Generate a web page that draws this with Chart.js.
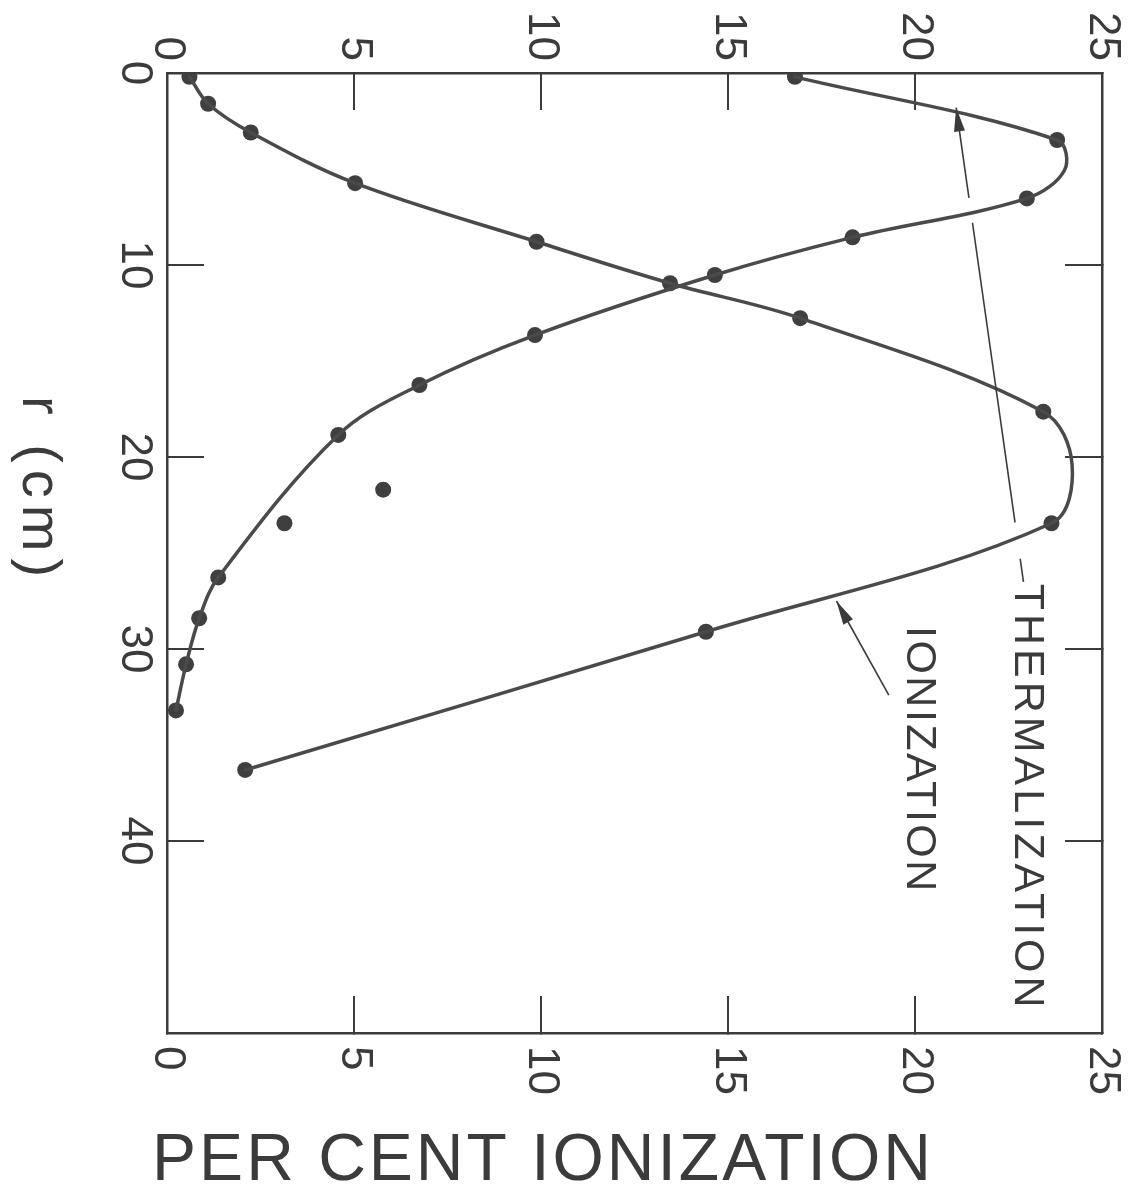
<!DOCTYPE html>
<html>
<head>
<meta charset="utf-8">
<script src="https://cdn.jsdelivr.net/npm/chart.js@4.4.1/dist/chart.umd.min.js"></script>
<style>
  html, body { margin: 0; padding: 0; background: #fff; }
</style>
</head>
<body>
<canvas id="chart" width="1133" height="1186"></canvas>
<script>
// per cent ionization runs across, r (cm) runs down the page
const pctTicks = [0, 5, 10, 15, 20, 25];
const rTicks = [0, 10, 20, 30, 40];

// measured points
const ionPct = [0.6, 1.1, 2.24, 5.03, 9.88, 13.45, 16.93, 23.43, 23.65, 14.41, 2.09];
const ionR = [0.2, 1.6, 3.1, 5.74, 8.79, 10.95, 12.77, 17.64, 23.45, 29.1, 36.3];

const thermPct = [16.79, 23.8, 22.99, 18.33, 14.65, 9.84, 6.75, 4.58, 1.37, 0.86, 0.51, 0.24];
const thermR = [0.2, 3.49, 6.53, 8.56, 10.52, 13.65, 16.25, 18.85, 26.27, 28.4, 30.8, 33.2];

// two points lying off the thermalization curve
const strayPct = [5.78, 3.14];
const strayR = [21.7, 23.45];

// the drawn curves (includes the turning points)
const ionCurvePct = [0.6, 1.1, 2.24, 5.03, 9.88, 13.45, 16.93, 23.43, 24.2, 23.65, 14.41, 2.09];
const ionCurveR = [0.2, 1.6, 3.1, 5.74, 8.79, 10.95, 12.77, 17.64, 20.4, 23.45, 29.1, 36.3];

const thermCurvePct = [16.79, 23.8, 24.0, 22.99, 18.33, 14.65, 9.84, 6.75, 4.58, 1.37, 0.86, 0.51, 0.24];
const thermCurveR = [0.2, 3.49, 5.05, 6.53, 8.56, 10.52, 13.65, 16.25, 18.85, 26.27, 28.4, 30.8, 33.2];

// labels with leader arrows (data units)
const thermNote = { text: "THERMALIZATION", pct: 23.0, r: 26.6, spacing: 4,
  tip: [21.1, 1.8], tail: [22.9, 26.5], gaps: [[6.5, 7.8], [23.4, 25.3]] };
const ionNote = { text: "IONIZATION", pct: 20.1, r: 28.8, spacing: 2.5,
  tip: [17.9, 27.5], tail: [19.3, 32.4], gaps: [] };

const ink = "#3b3b3b";
const lineInk = "#4a4a4a";
const font = "'Liberation Sans', Arial, sans-serif";

const pts = (xs, ys) => xs.map((v, i) => ({ x: v, y: ys[i] }));

function axis(pos, min, max, step, size, reverse) {
  return {
    type: "linear",
    position: pos,
    axis: pos === "top" || pos === "bottom" ? "x" : "y",
    min: min,
    max: max,
    reverse: !!reverse,
    ticks: { display: false, stepSize: step },
    grid: { drawOnChartArea: false, drawTicks: true, tickLength: -37, color: ink, lineWidth: 2 },
    border: { display: true, color: ink, width: 2.5 },
    afterFit: (s) => {
      if (s.isHorizontal()) s.height = size;
      else s.width = size;
    },
  };
}

function rotText(ctx, text, x, y, align, spacing) {
  ctx.save();
  ctx.translate(x, y);
  ctx.rotate(Math.PI / 2);
  ctx.textAlign = align;
  ctx.textBaseline = "middle";
  ctx.letterSpacing = (spacing || 0) + "px";
  ctx.fillText(text, 0, 0);
  ctx.restore();
}

function drawNote(ctx, xs, ys, note) {
  const px = (p) => [xs.getPixelForValue(p[0]), ys.getPixelForValue(p[1])];
  const at = (r) => {
    const t = (r - note.tip[1]) / (note.tail[1] - note.tip[1]);
    return [note.tip[0] + t * (note.tail[0] - note.tip[0]), r];
  };
  const stops = [note.tip[1]];
  note.gaps.forEach((g) => stops.push(g[0], g[1]));
  stops.push(note.tail[1]);
  ctx.save();
  ctx.strokeStyle = ink;
  ctx.lineWidth = 1.6;
  for (let i = 0; i < stops.length; i += 2) {
    const a = px(at(stops[i]));
    const b = px(at(stops[i + 1]));
    ctx.beginPath();
    ctx.moveTo(a[0], a[1]);
    ctx.lineTo(b[0], b[1]);
    ctx.stroke();
  }
  // arrow head
  const tip = px(note.tip);
  const tail = px(note.tail);
  const ang = Math.atan2(tip[1] - tail[1], tip[0] - tail[0]);
  const len = 24, hw = 5.5;
  ctx.fillStyle = ink;
  ctx.beginPath();
  ctx.moveTo(tip[0], tip[1]);
  ctx.lineTo(tip[0] - len * Math.cos(ang) + hw * Math.sin(ang), tip[1] - len * Math.sin(ang) - hw * Math.cos(ang));
  ctx.lineTo(tip[0] - len * Math.cos(ang) - hw * Math.sin(ang), tip[1] - len * Math.sin(ang) + hw * Math.cos(ang));
  ctx.closePath();
  ctx.fill();
  ctx.font = "43px " + font;
  rotText(ctx, note.text, xs.getPixelForValue(note.pct), ys.getPixelForValue(note.r), "left", note.spacing);
  ctx.restore();
}

const textPlugin = {
  id: "texts",
  afterDraw(chart) {
    const ctx = chart.ctx;
    const xb = chart.scales.x, xt = chart.scales.x2, yl = chart.scales.y;
    ctx.save();
    ctx.fillStyle = ink;
    ctx.font = "44px " + font;
    pctTicks.forEach((v) => {
      rotText(ctx, String(v), xt.getPixelForValue(v), xt.bottom - 12, "right");
      rotText(ctx, String(v), xb.getPixelForValue(v), xb.top + 13, "left");
    });
    rTicks.forEach((v) => {
      rotText(ctx, String(v), yl.right - 33, yl.getPixelForValue(v), "center");
    });
    ctx.font = "56px " + font;
    rotText(ctx, "r (cm)", 38, 490, "center", 7);
    ctx.font = "66px " + font;
    ctx.textAlign = "center";
    ctx.textBaseline = "alphabetic";
    ctx.letterSpacing = "3px";
    ctx.fillText("PER CENT IONIZATION", 543, 1180);
    ctx.letterSpacing = "0px";
    drawNote(ctx, xb, yl, thermNote);
    drawNote(ctx, xb, yl, ionNote);
    ctx.restore();
  },
};

const curve = (data) => ({
  data: data,
  showLine: true,
  borderColor: lineInk,
  borderWidth: 3.5,
  tension: 0.35,
  pointRadius: 0,
  borderCapStyle: "round",
  xAxisID: "x",
  yAxisID: "y",
});
const dots = (data) => ({
  data: data,
  showLine: false,
  pointRadius: 8,
  pointBackgroundColor: "#3f3f3f",
  pointBorderColor: "#3f3f3f",
  pointBorderWidth: 0,
  xAxisID: "x",
  yAxisID: "y",
});

new Chart(document.getElementById("chart"), {
  type: "scatter",
  data: {
    datasets: [
      curve(pts(ionCurvePct, ionCurveR)),
      curve(pts(thermCurvePct, thermCurveR)),
      dots(pts(ionPct, ionR)),
      dots(pts(thermPct, thermR)),
      dots(pts(strayPct, strayR)),
    ],
  },
  options: {
    responsive: false,
    animation: false,
    layout: { padding: 0 },
    plugins: { legend: { display: false }, tooltip: { enabled: false } },
    scales: {
      x: axis("bottom", 0, 25, 5, 153),
      x2: axis("top", 0, 25, 5, 73),
      y: axis("left", 0, 50, 10, 167, true),
      y2: axis("right", 0, 50, 10, 31, true),
    },
  },
  plugins: [textPlugin],
});
</script>
</body>
</html>
